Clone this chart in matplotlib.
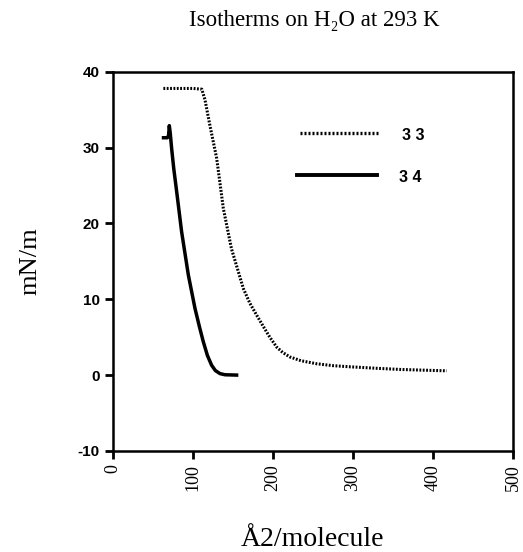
from matplotlib import pyplot as plt
import numpy as np

# isotherm 33 (dotted)
area_33 = [63, 80, 100, 111, 115, 121, 129.6, 137.9, 148, 163, 171, 179.6, 188, 196, 204.6, 212, 221,
           235, 254.6, 275, 296, 330, 359, 390, 417]
press_33 = [37.8, 37.8, 37.8, 37.7, 36.3, 33, 28.6, 22, 16.7, 11.4, 9.5, 7.9, 6.4, 5.0, 3.7, 3.0, 2.4,
            1.9, 1.5, 1.25, 1.1, 0.9, 0.75, 0.65, 0.57]

# isotherm 34 (solid)
area_34 = [61, 68, 69.5, 70.4, 71.5, 73.3, 76, 79.6, 85.8, 94.2, 102.5, 108, 112.9, 118, 123.3, 128,
           133.8, 140, 156.7]
press_34 = [31.3, 31.3, 31.6, 32.9, 32.0, 29.9, 27.2, 24.2, 18.9, 13.2, 8.8, 6.4, 4.4, 2.6, 1.3, 0.6,
            0.2, 0.05, 0]

xticks = [0, 100, 200, 300, 400, 500]
yticks = [-10, 0, 10, 20, 30, 40]

serif = 'Liberation Serif'
sans = 'Liberation Sans'
dots = (0, (0.6, 0.5))

fig = plt.figure(figsize=(5.23, 5.52), dpi=100)
ax = fig.add_axes([0.216, 0.183, 0.765, 0.687])

ax.plot(area_33, press_33, color='black', lw=2.2, linestyle=dots)
ax.plot(area_34, press_34, color='black', lw=2.5, solid_capstyle='butt', solid_joinstyle='round')

# legend drawn by hand in data coords
ax.plot([234, 331], [31.9, 31.9], color='black', lw=2.4, linestyle=(0, (0.6, 0.6)))
ax.plot([230, 330], [26.4, 26.4], color='black', lw=2.8)
ax.text(361, 31.6, '3 3', fontfamily=sans, fontweight='bold', fontsize=11.5, va='center')
ax.text(358, 26.1, '3 4', fontfamily=sans, fontweight='bold', fontsize=11.5, va='center')

ax.set_xlim(0, 500)
ax.set_ylim(-10, 40)
ax.set_xticks(xticks)
ax.set_xticklabels([str(v) for v in xticks], rotation=90, fontfamily=serif, fontsize=13)
ax.set_yticks(yticks)
ax.set_yticklabels([str(v) for v in yticks], fontfamily=sans, fontweight='bold', fontsize=11)
ax.tick_params(direction='out', length=6, width=2)

for s in ax.spines.values():
    s.set_linewidth(1.8)

ax.set_ylabel('mN/m', fontfamily=serif, fontsize=19, labelpad=26)
ax.set_xlabel('Å2/molecule', fontfamily=serif, fontsize=20, labelpad=26)
fig.text(0.6, 0.962, 'Isotherms on H₂O at 293 K', fontfamily=serif, fontsize=16.5,
         ha='center', va='center')

plt.savefig('out.png')
